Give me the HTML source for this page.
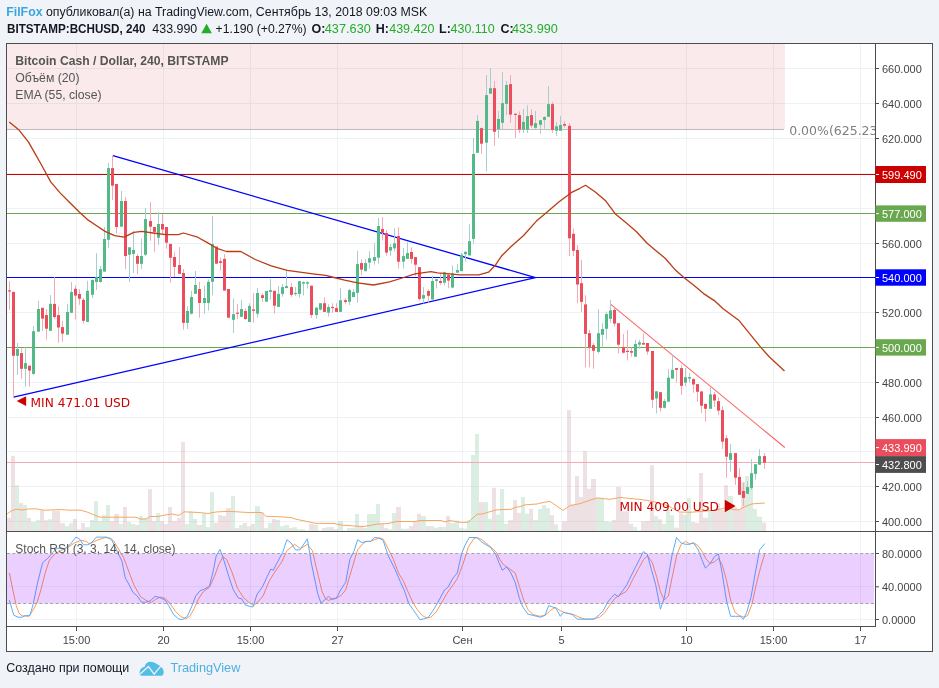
<!DOCTYPE html><html><head><meta charset="utf-8"><title>BCHUSD</title><style>
html,body{margin:0;padding:0;width:939px;height:688px;overflow:hidden;background:#f0f3f7}
svg{display:block}
.ax{font-family:"Liberation Sans",Arial,sans-serif;font-size:11px;fill:#444}
.lg{font-family:"Liberation Sans",Arial,sans-serif;font-size:12.3px;fill:#555}
.dv{font-family:"DejaVu Sans","Liberation Sans",sans-serif}
</style></head><body>
<svg width="939" height="688" viewBox="0 0 939 688">
<defs><clipPath id="cm"><rect x="7" y="44" width="868" height="487"/></clipPath>
<clipPath id="cs"><rect x="7" y="532" width="868" height="94"/></clipPath></defs>
<rect width="939" height="688" fill="#f0f3f7"/>
<text x="6.2" y="15.7" font-family="Liberation Sans, Arial, sans-serif" font-size="12.5" fill="#131722" textLength="421" lengthAdjust="spacingAndGlyphs"><tspan fill="#3ca5dc" font-weight="bold">FilFox</tspan> опубликовал(а) на TradingView.com, Сентябрь 13, 2018 09:03 MSK</text>
<g font-family="Liberation Sans, Arial, sans-serif" font-size="12.5" fill="#131722">
<text x="7" y="33.2" font-weight="bold" textLength="138.5" lengthAdjust="spacingAndGlyphs">BITSTAMP:BCHUSD, 240</text>
<text x="152.3" y="33.2" textLength="45" lengthAdjust="spacingAndGlyphs">433.990</text>
<path d="M201.3 33.2 L206.6 23.8 L211.9 33.2 Z" fill="#27ac2a"/>
<text x="215.6" y="33.2" textLength="91" lengthAdjust="spacingAndGlyphs">+1.190 (+0.27%)</text>
<text x="311.6" y="33.2" font-weight="bold">O:</text>
<text x="324.8" y="33.2" fill="#27ac2a" textLength="46.0" lengthAdjust="spacingAndGlyphs">437.630</text>
<text x="375.7" y="33.2" font-weight="bold">H:</text>
<text x="389.2" y="33.2" fill="#27ac2a" textLength="45.2" lengthAdjust="spacingAndGlyphs">439.420</text>
<text x="439.0" y="33.2" font-weight="bold">L:</text>
<text x="450.5" y="33.2" fill="#27ac2a" textLength="44.2" lengthAdjust="spacingAndGlyphs">430.110</text>
<text x="500.5" y="33.2" font-weight="bold">C:</text>
<text x="512.0" y="33.2" fill="#27ac2a" textLength="45.9" lengthAdjust="spacingAndGlyphs">433.990</text>
</g>
<rect x="6.5" y="43.5" width="926" height="608" fill="#ffffff" stroke="#4d4d4d" stroke-width="1"/>
<g clip-path="url(#cm)">
<line x1="7" x2="875" y1="68.5" y2="68.5" stroke="#eef2f6" stroke-width="1"/>
<line x1="7" x2="875" y1="103.5" y2="103.5" stroke="#eef2f6" stroke-width="1"/>
<line x1="7" x2="875" y1="138.5" y2="138.5" stroke="#eef2f6" stroke-width="1"/>
<line x1="7" x2="875" y1="173.5" y2="173.5" stroke="#eef2f6" stroke-width="1"/>
<line x1="7" x2="875" y1="208.5" y2="208.5" stroke="#eef2f6" stroke-width="1"/>
<line x1="7" x2="875" y1="243.5" y2="243.5" stroke="#eef2f6" stroke-width="1"/>
<line x1="7" x2="875" y1="277.5" y2="277.5" stroke="#eef2f6" stroke-width="1"/>
<line x1="7" x2="875" y1="312.5" y2="312.5" stroke="#eef2f6" stroke-width="1"/>
<line x1="7" x2="875" y1="347.5" y2="347.5" stroke="#eef2f6" stroke-width="1"/>
<line x1="7" x2="875" y1="382.5" y2="382.5" stroke="#eef2f6" stroke-width="1"/>
<line x1="7" x2="875" y1="417.5" y2="417.5" stroke="#eef2f6" stroke-width="1"/>
<line x1="7" x2="875" y1="451.5" y2="451.5" stroke="#eef2f6" stroke-width="1"/>
<line x1="7" x2="875" y1="486.5" y2="486.5" stroke="#eef2f6" stroke-width="1"/>
<line x1="7" x2="875" y1="521.5" y2="521.5" stroke="#eef2f6" stroke-width="1"/>
<line x1="76.5" x2="76.5" y1="44" y2="531" stroke="#eef2f6" stroke-width="1"/>
<line x1="163.5" x2="163.5" y1="44" y2="531" stroke="#eef2f6" stroke-width="1"/>
<line x1="250.5" x2="250.5" y1="44" y2="531" stroke="#eef2f6" stroke-width="1"/>
<line x1="337.5" x2="337.5" y1="44" y2="531" stroke="#eef2f6" stroke-width="1"/>
<line x1="462.5" x2="462.5" y1="44" y2="531" stroke="#eef2f6" stroke-width="1"/>
<line x1="561.5" x2="561.5" y1="44" y2="531" stroke="#eef2f6" stroke-width="1"/>
<line x1="686.5" x2="686.5" y1="44" y2="531" stroke="#eef2f6" stroke-width="1"/>
<line x1="773.5" x2="773.5" y1="44" y2="531" stroke="#eef2f6" stroke-width="1"/>
<line x1="860.5" x2="860.5" y1="44" y2="531" stroke="#eef2f6" stroke-width="1"/>
<rect x="7" y="44" width="778" height="85" fill="rgba(205,45,55,0.1)"/>
<line x1="7" x2="784" y1="129.5" y2="129.5" stroke="rgba(128,118,120,0.5)" stroke-width="1"/>
<rect x="7" y="517.7" width="4" height="13.3" fill="rgba(190,140,145,0.26)"/><rect x="11" y="455.9" width="4" height="75.1" fill="rgba(190,140,145,0.26)"/><rect x="15" y="485.2" width="4" height="45.8" fill="rgba(120,190,140,0.26)"/><rect x="19" y="503.1" width="4" height="27.9" fill="rgba(190,140,145,0.26)"/><rect x="23" y="505.0" width="4" height="26.0" fill="rgba(120,190,140,0.26)"/><rect x="27" y="518.0" width="4" height="13.0" fill="rgba(190,140,145,0.26)"/><rect x="31" y="521.9" width="5" height="9.1" fill="rgba(120,190,140,0.26)"/><rect x="36" y="520.2" width="4" height="10.8" fill="rgba(120,190,140,0.26)"/><rect x="40" y="510.3" width="4" height="20.7" fill="rgba(190,140,145,0.26)"/><rect x="44" y="520.2" width="4" height="10.8" fill="rgba(190,140,145,0.26)"/><rect x="48" y="519.2" width="4" height="11.8" fill="rgba(120,190,140,0.26)"/><rect x="52" y="510.9" width="4" height="20.1" fill="rgba(190,140,145,0.26)"/><rect x="56" y="510.9" width="4" height="20.1" fill="rgba(190,140,145,0.26)"/><rect x="60" y="523.1" width="5" height="7.9" fill="rgba(190,140,145,0.26)"/><rect x="65" y="526.0" width="4" height="5.0" fill="rgba(120,190,140,0.26)"/><rect x="69" y="523.1" width="4" height="7.9" fill="rgba(120,190,140,0.26)"/><rect x="73" y="519.0" width="4" height="12.0" fill="rgba(190,140,145,0.26)"/><rect x="77" y="529.1" width="4" height="1.9" fill="rgba(190,140,145,0.26)"/><rect x="81" y="522.9" width="4" height="8.1" fill="rgba(190,140,145,0.26)"/><rect x="85" y="527.1" width="5" height="3.9" fill="rgba(120,190,140,0.26)"/><rect x="90" y="520.0" width="4" height="11.0" fill="rgba(120,190,140,0.26)"/><rect x="94" y="501.0" width="4" height="30.0" fill="rgba(120,190,140,0.26)"/><rect x="98" y="521.2" width="4" height="9.8" fill="rgba(120,190,140,0.26)"/><rect x="102" y="515.2" width="4" height="15.8" fill="rgba(120,190,140,0.26)"/><rect x="106" y="505.0" width="4" height="26.0" fill="rgba(120,190,140,0.26)"/><rect x="110" y="521.2" width="4" height="9.8" fill="rgba(190,140,145,0.26)"/><rect x="114" y="514.0" width="5" height="17.0" fill="rgba(190,140,145,0.26)"/><rect x="119" y="524.0" width="4" height="7.0" fill="rgba(120,190,140,0.26)"/><rect x="123" y="507.0" width="4" height="24.0" fill="rgba(190,140,145,0.26)"/><rect x="127" y="522.0" width="4" height="9.0" fill="rgba(120,190,140,0.26)"/><rect x="131" y="524.0" width="4" height="7.0" fill="rgba(120,190,140,0.26)"/><rect x="135" y="525.0" width="4" height="6.0" fill="rgba(190,140,145,0.26)"/><rect x="139" y="516.0" width="4" height="15.0" fill="rgba(120,190,140,0.26)"/><rect x="143" y="518.6" width="5" height="12.4" fill="rgba(120,190,140,0.26)"/><rect x="148" y="489.1" width="4" height="41.9" fill="rgba(190,140,145,0.26)"/><rect x="152" y="521.2" width="4" height="9.8" fill="rgba(190,140,145,0.26)"/><rect x="156" y="513.1" width="4" height="17.9" fill="rgba(120,190,140,0.26)"/><rect x="160" y="521.2" width="4" height="9.8" fill="rgba(190,140,145,0.26)"/><rect x="164" y="524.0" width="4" height="7.0" fill="rgba(190,140,145,0.26)"/><rect x="168" y="507.0" width="4" height="24.0" fill="rgba(190,140,145,0.26)"/><rect x="172" y="521.2" width="5" height="9.8" fill="rgba(190,140,145,0.26)"/><rect x="177" y="518.1" width="4" height="12.9" fill="rgba(190,140,145,0.26)"/><rect x="181" y="441.9" width="4" height="89.1" fill="rgba(190,140,145,0.26)"/><rect x="185" y="524.0" width="4" height="7.0" fill="rgba(120,190,140,0.26)"/><rect x="189" y="511.4" width="4" height="19.6" fill="rgba(120,190,140,0.26)"/><rect x="193" y="519.0" width="4" height="12.0" fill="rgba(120,190,140,0.26)"/><rect x="197" y="525.0" width="5" height="6.0" fill="rgba(190,140,145,0.26)"/><rect x="202" y="513.5" width="4" height="17.5" fill="rgba(120,190,140,0.26)"/><rect x="206" y="527.1" width="4" height="3.9" fill="rgba(120,190,140,0.26)"/><rect x="210" y="492.2" width="4" height="38.8" fill="rgba(120,190,140,0.26)"/><rect x="214" y="522.9" width="4" height="8.1" fill="rgba(190,140,145,0.26)"/><rect x="218" y="514.9" width="4" height="16.1" fill="rgba(190,140,145,0.26)"/><rect x="222" y="516.0" width="4" height="15.0" fill="rgba(190,140,145,0.26)"/><rect x="226" y="508.0" width="5" height="23.0" fill="rgba(190,140,145,0.26)"/><rect x="231" y="496.1" width="4" height="34.9" fill="rgba(120,190,140,0.26)"/><rect x="235" y="528.0" width="4" height="3.0" fill="rgba(190,140,145,0.26)"/><rect x="239" y="525.0" width="4" height="6.0" fill="rgba(120,190,140,0.26)"/><rect x="243" y="522.9" width="4" height="8.1" fill="rgba(190,140,145,0.26)"/><rect x="247" y="526.3" width="4" height="4.7" fill="rgba(120,190,140,0.26)"/><rect x="251" y="524.0" width="4" height="7.0" fill="rgba(190,140,145,0.26)"/><rect x="255" y="506.2" width="5" height="24.8" fill="rgba(120,190,140,0.26)"/><rect x="260" y="512.6" width="4" height="18.4" fill="rgba(190,140,145,0.26)"/><rect x="264" y="528.0" width="4" height="3.0" fill="rgba(120,190,140,0.26)"/><rect x="268" y="522.9" width="4" height="8.1" fill="rgba(120,190,140,0.26)"/><rect x="272" y="519.0" width="4" height="12.0" fill="rgba(190,140,145,0.26)"/><rect x="276" y="520.0" width="4" height="11.0" fill="rgba(120,190,140,0.26)"/><rect x="280" y="526.3" width="4" height="4.7" fill="rgba(120,190,140,0.26)"/><rect x="284" y="525.0" width="5" height="6.0" fill="rgba(120,190,140,0.26)"/><rect x="289" y="528.0" width="4" height="3.0" fill="rgba(190,140,145,0.26)"/><rect x="293" y="527.1" width="4" height="3.9" fill="rgba(120,190,140,0.26)"/><rect x="297" y="529.2" width="4" height="1.8" fill="rgba(120,190,140,0.26)"/><rect x="301" y="529.2" width="4" height="1.8" fill="rgba(120,190,140,0.26)"/><rect x="305" y="530.5" width="4" height="0.5" fill="rgba(120,190,140,0.26)"/><rect x="309" y="524.0" width="5" height="7.0" fill="rgba(190,140,145,0.26)"/><rect x="314" y="525.0" width="4" height="6.0" fill="rgba(120,190,140,0.26)"/><rect x="318" y="530.5" width="4" height="0.5" fill="rgba(120,190,140,0.26)"/><rect x="322" y="528.0" width="4" height="3.0" fill="rgba(190,140,145,0.26)"/><rect x="326" y="527.1" width="4" height="3.9" fill="rgba(120,190,140,0.26)"/><rect x="330" y="527.1" width="4" height="3.9" fill="rgba(190,140,145,0.26)"/><rect x="334" y="529.2" width="4" height="1.8" fill="rgba(190,140,145,0.26)"/><rect x="338" y="521.2" width="5" height="9.8" fill="rgba(120,190,140,0.26)"/><rect x="343" y="530.5" width="4" height="0.5" fill="rgba(190,140,145,0.26)"/><rect x="347" y="528.0" width="4" height="3.0" fill="rgba(120,190,140,0.26)"/><rect x="351" y="528.0" width="4" height="3.0" fill="rgba(120,190,140,0.26)"/><rect x="355" y="514.0" width="4" height="17.0" fill="rgba(120,190,140,0.26)"/><rect x="359" y="526.3" width="4" height="4.7" fill="rgba(190,140,145,0.26)"/><rect x="363" y="528.0" width="4" height="3.0" fill="rgba(120,190,140,0.26)"/><rect x="367" y="514.0" width="5" height="17.0" fill="rgba(120,190,140,0.26)"/><rect x="372" y="514.0" width="4" height="17.0" fill="rgba(120,190,140,0.26)"/><rect x="376" y="504.1" width="4" height="26.9" fill="rgba(120,190,140,0.26)"/><rect x="380" y="524.0" width="4" height="7.0" fill="rgba(190,140,145,0.26)"/><rect x="384" y="528.0" width="4" height="3.0" fill="rgba(190,140,145,0.26)"/><rect x="388" y="529.2" width="4" height="1.8" fill="rgba(120,190,140,0.26)"/><rect x="392" y="513.0" width="4" height="18.0" fill="rgba(120,190,140,0.26)"/><rect x="396" y="506.9" width="5" height="24.1" fill="rgba(190,140,145,0.26)"/><rect x="401" y="528.7" width="4" height="2.3" fill="rgba(120,190,140,0.26)"/><rect x="405" y="528.7" width="4" height="2.3" fill="rgba(120,190,140,0.26)"/><rect x="409" y="526.0" width="4" height="5.0" fill="rgba(190,140,145,0.26)"/><rect x="413" y="521.9" width="4" height="9.1" fill="rgba(190,140,145,0.26)"/><rect x="417" y="513.7" width="4" height="17.3" fill="rgba(190,140,145,0.26)"/><rect x="421" y="515.9" width="5" height="15.1" fill="rgba(120,190,140,0.26)"/><rect x="426" y="526.0" width="4" height="5.0" fill="rgba(190,140,145,0.26)"/><rect x="430" y="526.0" width="4" height="5.0" fill="rgba(120,190,140,0.26)"/><rect x="434" y="527.7" width="4" height="3.3" fill="rgba(120,190,140,0.26)"/><rect x="438" y="527.0" width="4" height="4.0" fill="rgba(190,140,145,0.26)"/><rect x="442" y="527.0" width="4" height="4.0" fill="rgba(120,190,140,0.26)"/><rect x="446" y="515.9" width="4" height="15.1" fill="rgba(190,140,145,0.26)"/><rect x="450" y="523.1" width="5" height="7.9" fill="rgba(120,190,140,0.26)"/><rect x="455" y="520.5" width="4" height="10.5" fill="rgba(120,190,140,0.26)"/><rect x="459" y="527.7" width="4" height="3.3" fill="rgba(120,190,140,0.26)"/><rect x="463" y="528.7" width="4" height="2.3" fill="rgba(120,190,140,0.26)"/><rect x="467" y="520.2" width="4" height="10.8" fill="rgba(120,190,140,0.26)"/><rect x="471" y="454.9" width="4" height="76.1" fill="rgba(120,190,140,0.26)"/><rect x="475" y="434.0" width="4" height="97.0" fill="rgba(120,190,140,0.26)"/><rect x="479" y="502.1" width="5" height="28.9" fill="rgba(190,140,145,0.26)"/><rect x="484" y="502.1" width="4" height="28.9" fill="rgba(120,190,140,0.26)"/><rect x="488" y="518.8" width="4" height="12.2" fill="rgba(120,190,140,0.26)"/><rect x="492" y="487.8" width="4" height="43.2" fill="rgba(190,140,145,0.26)"/><rect x="496" y="514.6" width="4" height="16.4" fill="rgba(120,190,140,0.26)"/><rect x="500" y="489.0" width="4" height="42.0" fill="rgba(120,190,140,0.26)"/><rect x="504" y="523.9" width="4" height="7.1" fill="rgba(120,190,140,0.26)"/><rect x="508" y="520.2" width="5" height="10.8" fill="rgba(190,140,145,0.26)"/><rect x="513" y="500.1" width="4" height="30.9" fill="rgba(190,140,145,0.26)"/><rect x="517" y="512.9" width="4" height="18.1" fill="rgba(190,140,145,0.26)"/><rect x="521" y="497.0" width="4" height="34.0" fill="rgba(120,190,140,0.26)"/><rect x="525" y="513.7" width="4" height="17.3" fill="rgba(120,190,140,0.26)"/><rect x="529" y="508.9" width="4" height="22.1" fill="rgba(190,140,145,0.26)"/><rect x="533" y="520.2" width="5" height="10.8" fill="rgba(120,190,140,0.26)"/><rect x="538" y="508.9" width="4" height="22.1" fill="rgba(120,190,140,0.26)"/><rect x="542" y="505.2" width="4" height="25.8" fill="rgba(120,190,140,0.26)"/><rect x="546" y="508.0" width="4" height="23.0" fill="rgba(120,190,140,0.26)"/><rect x="550" y="515.1" width="4" height="15.9" fill="rgba(190,140,145,0.26)"/><rect x="554" y="524.3" width="4" height="6.7" fill="rgba(120,190,140,0.26)"/><rect x="558" y="530.5" width="4" height="0.5" fill="rgba(120,190,140,0.26)"/><rect x="562" y="521.3" width="5" height="9.7" fill="rgba(190,140,145,0.26)"/><rect x="567" y="410.0" width="4" height="121.0" fill="rgba(190,140,145,0.26)"/><rect x="571" y="504.6" width="4" height="26.4" fill="rgba(190,140,145,0.26)"/><rect x="575" y="476.2" width="4" height="54.8" fill="rgba(190,140,145,0.26)"/><rect x="579" y="496.9" width="4" height="34.1" fill="rgba(190,140,145,0.26)"/><rect x="583" y="451.2" width="4" height="79.8" fill="rgba(190,140,145,0.26)"/><rect x="587" y="488.8" width="4" height="42.2" fill="rgba(190,140,145,0.26)"/><rect x="591" y="479.0" width="5" height="52.0" fill="rgba(190,140,145,0.26)"/><rect x="596" y="497.9" width="4" height="33.1" fill="rgba(120,190,140,0.26)"/><rect x="600" y="497.9" width="4" height="33.1" fill="rgba(120,190,140,0.26)"/><rect x="604" y="521.3" width="4" height="9.7" fill="rgba(120,190,140,0.26)"/><rect x="608" y="521.8" width="4" height="9.2" fill="rgba(120,190,140,0.26)"/><rect x="612" y="519.9" width="4" height="11.1" fill="rgba(190,140,145,0.26)"/><rect x="616" y="486.9" width="5" height="44.1" fill="rgba(190,140,145,0.26)"/><rect x="621" y="511.3" width="4" height="19.7" fill="rgba(190,140,145,0.26)"/><rect x="625" y="511.3" width="4" height="19.7" fill="rgba(190,140,145,0.26)"/><rect x="629" y="523.8" width="4" height="7.2" fill="rgba(190,140,145,0.26)"/><rect x="633" y="527.0" width="4" height="4.0" fill="rgba(120,190,140,0.26)"/><rect x="637" y="530.5" width="4" height="0.5" fill="rgba(120,190,140,0.26)"/><rect x="641" y="521.3" width="4" height="9.7" fill="rgba(190,140,145,0.26)"/><rect x="645" y="520.9" width="5" height="10.1" fill="rgba(190,140,145,0.26)"/><rect x="650" y="465.2" width="4" height="65.8" fill="rgba(190,140,145,0.26)"/><rect x="654" y="516.1" width="4" height="14.9" fill="rgba(120,190,140,0.26)"/><rect x="658" y="519.3" width="4" height="11.7" fill="rgba(190,140,145,0.26)"/><rect x="662" y="523.8" width="4" height="7.2" fill="rgba(120,190,140,0.26)"/><rect x="666" y="509.7" width="4" height="21.3" fill="rgba(120,190,140,0.26)"/><rect x="670" y="515.1" width="4" height="15.9" fill="rgba(120,190,140,0.26)"/><rect x="674" y="527.6" width="5" height="3.4" fill="rgba(190,140,145,0.26)"/><rect x="679" y="513.2" width="4" height="17.8" fill="rgba(190,140,145,0.26)"/><rect x="683" y="514.7" width="4" height="16.3" fill="rgba(120,190,140,0.26)"/><rect x="687" y="498.2" width="4" height="32.8" fill="rgba(120,190,140,0.26)"/><rect x="691" y="522.0" width="4" height="9.0" fill="rgba(190,140,145,0.26)"/><rect x="695" y="523.0" width="4" height="8.0" fill="rgba(190,140,145,0.26)"/><rect x="699" y="473.0" width="4" height="58.0" fill="rgba(190,140,145,0.26)"/><rect x="703" y="517.8" width="5" height="13.2" fill="rgba(190,140,145,0.26)"/><rect x="708" y="510.1" width="4" height="20.9" fill="rgba(120,190,140,0.26)"/><rect x="712" y="511.2" width="4" height="19.8" fill="rgba(190,140,145,0.26)"/><rect x="716" y="503.4" width="4" height="27.6" fill="rgba(190,140,145,0.26)"/><rect x="720" y="510.0" width="4" height="21.0" fill="rgba(190,140,145,0.26)"/><rect x="724" y="485.2" width="4" height="45.8" fill="rgba(190,140,145,0.26)"/><rect x="728" y="496.0" width="5" height="35.0" fill="rgba(120,190,140,0.26)"/><rect x="733" y="507.1" width="4" height="23.9" fill="rgba(190,140,145,0.26)"/><rect x="737" y="510.0" width="4" height="21.0" fill="rgba(190,140,145,0.26)"/><rect x="741" y="481.9" width="4" height="49.1" fill="rgba(190,140,145,0.26)"/><rect x="745" y="476.0" width="4" height="55.0" fill="rgba(120,190,140,0.26)"/><rect x="749" y="486.3" width="4" height="44.7" fill="rgba(120,190,140,0.26)"/><rect x="753" y="508.9" width="4" height="22.1" fill="rgba(120,190,140,0.26)"/><rect x="757" y="516.7" width="5" height="14.3" fill="rgba(120,190,140,0.26)"/><rect x="762" y="522.7" width="4" height="8.3" fill="rgba(190,140,145,0.26)"/>
<polyline fill="none" stroke="#f5a766" stroke-width="1" points="7,514 12,510.5 16,509.2 22,510 28,509 36,508.8 44,510.2 50,510 60,509.6 70,510.2 80,510.1 87,512 100,517.2 136,517.2 140,519 146,519 150,516.5 158,516.5 165,515 172,514 179,515.5 184,511.8 199,512.5 208,513.5 216,512 228,511.3 240,512 250,512.6 255,512.4 262,512.6 266,516.3 276,516.6 291,517.5 296,519.2 307,521.5 315,523.3 334,523.5 341,525 354,526 364,526.5 378,524 388,523.5 397,521.5 415,521.5 420,520.5 441,520.5 445,522 449,520.5 456,521.5 460,522.3 468,522.3 477,514.3 482,514 489,512 496,510 502,509.6 511,509.3 516,507 519,507 525,504.8 537,504 543,502.5 550,501.4 563,510.4 570,505.6 580,503.6 597,497.9 610,499.3 620,497.5 641,499.5 652,501.3 668,505.6 679,512 690,512.3 705,511.1 717,510 727,507.4 734,509.8 739,509.8 745,506.7 752,503.9 765,503"/>
<line x1="7" x2="875" y1="174.5" y2="174.5" stroke="#cc0000" stroke-width="1"/>
<line x1="7" x2="875" y1="213.5" y2="213.5" stroke="#6aa84f" stroke-width="1"/>
<line x1="7" x2="875" y1="277.5" y2="277.5" stroke="#0000ff" stroke-width="1"/>
<line x1="7" x2="875" y1="347.5" y2="347.5" stroke="#6aa84f" stroke-width="1"/>
<line x1="7" x2="875" y1="462.5" y2="462.5" stroke="#f6a9b0" stroke-width="1"/>
<polyline fill="none" stroke="#0000ff" stroke-width="1.3" stroke-linejoin="round" points="112.9,155.6 535.5,277.6 13.5,397.2"/>
<line x1="610.5" y1="304.2" x2="784.8" y2="447.5" stroke="#ff6464" stroke-width="1.1"/>
<path d="M16.7 401.1 L26.1 396.2 L26.1 405.9 Z" fill="#cc0000"/>
<text class="dv" x="30.6" y="406.6" font-size="12.2" fill="#cc0000" textLength="99.6" lengthAdjust="spacingAndGlyphs">MIN 471.01 USD</text>
<text class="dv" x="619.4" y="510.9" font-size="12.2" fill="#cc0000" textLength="99.4" lengthAdjust="spacingAndGlyphs">MIN 409.00 USD</text>
<path d="M735.6 506 L724.8 499.7 L724.8 512.3 Z" fill="#cc0000"/>
<rect x="9" y="281.1" width="1" height="28.8" fill="#f5a9b2"/><rect x="13" y="291.9" width="1" height="105.6" fill="#f5a9b2"/><rect x="17" y="343.0" width="1" height="31.8" fill="#a5cdd2"/><rect x="21" y="348.3" width="1" height="30.5" fill="#f5a9b2"/><rect x="25" y="346.9" width="1" height="39.7" fill="#a5cdd2"/><rect x="29" y="365.7" width="1" height="20.9" fill="#f5a9b2"/><rect x="33" y="325.9" width="1" height="48.9" fill="#a5cdd2"/><rect x="38" y="300.8" width="1" height="30.9" fill="#a5cdd2"/><rect x="42" y="307.8" width="1" height="23.0" fill="#f5a9b2"/><rect x="46" y="309.0" width="1" height="30.5" fill="#f5a9b2"/><rect x="50" y="295.1" width="1" height="35.7" fill="#a5cdd2"/><rect x="54" y="277.2" width="1" height="41.5" fill="#f5a9b2"/><rect x="58" y="306.4" width="1" height="36.3" fill="#f5a9b2"/><rect x="62" y="320.9" width="1" height="20.7" fill="#f5a9b2"/><rect x="67" y="303.9" width="1" height="30.8" fill="#a5cdd2"/><rect x="71" y="282.0" width="1" height="30.8" fill="#a5cdd2"/><rect x="75" y="285.2" width="1" height="34.3" fill="#f5a9b2"/><rect x="79" y="289.2" width="1" height="15.6" fill="#f5a9b2"/><rect x="83" y="298.0" width="1" height="25.5" fill="#f5a9b2"/><rect x="87" y="280.8" width="1" height="41.1" fill="#a5cdd2"/><rect x="92" y="279.9" width="1" height="18.1" fill="#a5cdd2"/><rect x="96" y="253.2" width="1" height="36.8" fill="#a5cdd2"/><rect x="100" y="266.0" width="1" height="16.5" fill="#a5cdd2"/><rect x="104" y="227.0" width="1" height="44.6" fill="#a5cdd2"/><rect x="108" y="163.0" width="1" height="85.0" fill="#a5cdd2"/><rect x="112" y="155.5" width="1" height="44.6" fill="#f5a9b2"/><rect x="116" y="184.0" width="1" height="49.5" fill="#f5a9b2"/><rect x="121" y="191.0" width="1" height="35.7" fill="#a5cdd2"/><rect x="125" y="197.1" width="1" height="71.9" fill="#f5a9b2"/><rect x="129" y="247.3" width="1" height="34.7" fill="#a5cdd2"/><rect x="133" y="231.0" width="1" height="42.0" fill="#a5cdd2"/><rect x="137" y="254.0" width="1" height="20.3" fill="#f5a9b2"/><rect x="141" y="238.7" width="1" height="30.3" fill="#a5cdd2"/><rect x="145" y="208.0" width="1" height="48.0" fill="#a5cdd2"/><rect x="150" y="202.1" width="1" height="38.6" fill="#f5a9b2"/><rect x="154" y="227.0" width="1" height="24.8" fill="#f5a9b2"/><rect x="158" y="212.2" width="1" height="32.6" fill="#a5cdd2"/><rect x="162" y="214.3" width="1" height="20.7" fill="#f5a9b2"/><rect x="166" y="227.0" width="1" height="21.7" fill="#f5a9b2"/><rect x="170" y="243.9" width="1" height="38.7" fill="#f5a9b2"/><rect x="174" y="252.2" width="1" height="24.8" fill="#f5a9b2"/><rect x="179" y="247.1" width="1" height="26.7" fill="#f5a9b2"/><rect x="183" y="269.0" width="1" height="60.7" fill="#f5a9b2"/><rect x="187" y="306.2" width="1" height="22.7" fill="#a5cdd2"/><rect x="191" y="290.9" width="1" height="23.6" fill="#a5cdd2"/><rect x="195" y="271.0" width="1" height="22.8" fill="#a5cdd2"/><rect x="199" y="281.8" width="1" height="35.9" fill="#f5a9b2"/><rect x="204" y="285.8" width="1" height="27.9" fill="#a5cdd2"/><rect x="208" y="279.4" width="1" height="31.1" fill="#a5cdd2"/><rect x="212" y="216.0" width="1" height="79.3" fill="#a5cdd2"/><rect x="216" y="246.6" width="1" height="17.1" fill="#f5a9b2"/><rect x="220" y="257.8" width="1" height="12.8" fill="#f5a9b2"/><rect x="224" y="254.1" width="1" height="36.5" fill="#f5a9b2"/><rect x="228" y="289.0" width="1" height="28.7" fill="#f5a9b2"/><rect x="233" y="298.5" width="1" height="34.4" fill="#a5cdd2"/><rect x="237" y="304.2" width="1" height="14.8" fill="#f5a9b2"/><rect x="241" y="300.1" width="1" height="16.7" fill="#a5cdd2"/><rect x="245" y="308.4" width="1" height="11.5" fill="#f5a9b2"/><rect x="249" y="303.2" width="1" height="18.8" fill="#a5cdd2"/><rect x="253" y="293.0" width="1" height="29.7" fill="#f5a9b2"/><rect x="257" y="288.1" width="1" height="29.7" fill="#a5cdd2"/><rect x="262" y="293.3" width="1" height="8.4" fill="#f5a9b2"/><rect x="266" y="291.0" width="1" height="10.7" fill="#a5cdd2"/><rect x="270" y="279.1" width="1" height="20.6" fill="#a5cdd2"/><rect x="274" y="290.8" width="1" height="22.9" fill="#f5a9b2"/><rect x="278" y="286.1" width="1" height="20.8" fill="#a5cdd2"/><rect x="282" y="284.0" width="1" height="12.8" fill="#a5cdd2"/><rect x="286" y="270.8" width="1" height="17.3" fill="#a5cdd2"/><rect x="291" y="283.2" width="1" height="13.6" fill="#f5a9b2"/><rect x="295" y="287.1" width="1" height="8.7" fill="#a5cdd2"/><rect x="299" y="281.2" width="1" height="16.4" fill="#a5cdd2"/><rect x="303" y="281.2" width="1" height="14.3" fill="#a5cdd2"/><rect x="307" y="281.2" width="1" height="7.4" fill="#a5cdd2"/><rect x="311" y="285.7" width="1" height="32.3" fill="#f5a9b2"/><rect x="316" y="307.6" width="1" height="11.2" fill="#a5cdd2"/><rect x="320" y="303.2" width="1" height="7.2" fill="#a5cdd2"/><rect x="324" y="297.4" width="1" height="14.5" fill="#f5a9b2"/><rect x="328" y="304.3" width="1" height="12.2" fill="#a5cdd2"/><rect x="332" y="303.2" width="1" height="9.5" fill="#f5a9b2"/><rect x="336" y="303.2" width="1" height="8.7" fill="#f5a9b2"/><rect x="340" y="288.3" width="1" height="23.6" fill="#a5cdd2"/><rect x="345" y="298.2" width="1" height="5.6" fill="#f5a9b2"/><rect x="349" y="289.0" width="1" height="16.0" fill="#a5cdd2"/><rect x="353" y="289.0" width="1" height="8.1" fill="#a5cdd2"/><rect x="357" y="250.9" width="1" height="51.9" fill="#a5cdd2"/><rect x="361" y="259.3" width="1" height="16.0" fill="#f5a9b2"/><rect x="365" y="259.3" width="1" height="11.9" fill="#a5cdd2"/><rect x="369" y="251.3" width="1" height="17.4" fill="#a5cdd2"/><rect x="374" y="243.2" width="1" height="21.4" fill="#a5cdd2"/><rect x="378" y="218.0" width="1" height="45.8" fill="#a5cdd2"/><rect x="382" y="217.2" width="1" height="23.2" fill="#f5a9b2"/><rect x="386" y="230.2" width="1" height="25.5" fill="#f5a9b2"/><rect x="390" y="244.0" width="1" height="11.7" fill="#a5cdd2"/><rect x="394" y="228.1" width="1" height="23.5" fill="#a5cdd2"/><rect x="398" y="227.2" width="1" height="41.4" fill="#f5a9b2"/><rect x="403" y="248.1" width="1" height="20.5" fill="#a5cdd2"/><rect x="407" y="242.3" width="1" height="16.6" fill="#a5cdd2"/><rect x="411" y="247.4" width="1" height="16.2" fill="#f5a9b2"/><rect x="415" y="257.1" width="1" height="18.7" fill="#f5a9b2"/><rect x="419" y="267.2" width="1" height="33.4" fill="#f5a9b2"/><rect x="423" y="287.1" width="1" height="16.3" fill="#a5cdd2"/><rect x="428" y="289.3" width="1" height="13.4" fill="#f5a9b2"/><rect x="432" y="275.5" width="1" height="24.0" fill="#a5cdd2"/><rect x="436" y="279.2" width="1" height="9.3" fill="#a5cdd2"/><rect x="440" y="273.0" width="1" height="11.7" fill="#f5a9b2"/><rect x="444" y="271.6" width="1" height="13.8" fill="#a5cdd2"/><rect x="448" y="274.7" width="1" height="13.5" fill="#f5a9b2"/><rect x="452" y="265.4" width="1" height="23.0" fill="#a5cdd2"/><rect x="457" y="264.0" width="1" height="8.7" fill="#a5cdd2"/><rect x="461" y="252.8" width="1" height="18.3" fill="#a5cdd2"/><rect x="465" y="251.3" width="1" height="10.2" fill="#a5cdd2"/><rect x="469" y="224.3" width="1" height="31.1" fill="#a5cdd2"/><rect x="473" y="137.9" width="1" height="105.7" fill="#a5cdd2"/><rect x="477" y="115.1" width="1" height="37.7" fill="#a5cdd2"/><rect x="481" y="127.4" width="1" height="26.2" fill="#f5a9b2"/><rect x="486" y="75.1" width="1" height="96.3" fill="#a5cdd2"/><rect x="490" y="68.1" width="1" height="25.6" fill="#a5cdd2"/><rect x="494" y="81.2" width="1" height="64.4" fill="#f5a9b2"/><rect x="498" y="111.1" width="1" height="26.8" fill="#a5cdd2"/><rect x="502" y="72.2" width="1" height="57.0" fill="#a5cdd2"/><rect x="506" y="80.9" width="1" height="34.2" fill="#a5cdd2"/><rect x="510" y="75.1" width="1" height="47.7" fill="#f5a9b2"/><rect x="515" y="113.7" width="1" height="24.2" fill="#f5a9b2"/><rect x="519" y="111.4" width="1" height="21.5" fill="#f5a9b2"/><rect x="523" y="108.8" width="1" height="24.1" fill="#a5cdd2"/><rect x="527" y="105.3" width="1" height="27.6" fill="#a5cdd2"/><rect x="531" y="109.3" width="1" height="18.5" fill="#f5a9b2"/><rect x="535" y="111.0" width="1" height="17.8" fill="#a5cdd2"/><rect x="540" y="120.2" width="1" height="13.5" fill="#a5cdd2"/><rect x="544" y="116.1" width="1" height="12.7" fill="#a5cdd2"/><rect x="548" y="86.1" width="1" height="30.7" fill="#a5cdd2"/><rect x="552" y="101.9" width="1" height="31.0" fill="#f5a9b2"/><rect x="556" y="122.2" width="1" height="13.6" fill="#a5cdd2"/><rect x="560" y="116.1" width="1" height="14.6" fill="#a5cdd2"/><rect x="564" y="121.2" width="1" height="6.4" fill="#f5a9b2"/><rect x="569" y="123.2" width="1" height="132.8" fill="#f5a9b2"/><rect x="573" y="228.6" width="1" height="27.4" fill="#f5a9b2"/><rect x="577" y="245.0" width="1" height="58.2" fill="#f5a9b2"/><rect x="581" y="260.0" width="1" height="52.0" fill="#f5a9b2"/><rect x="585" y="295.2" width="1" height="72.2" fill="#f5a9b2"/><rect x="589" y="330.0" width="1" height="37.4" fill="#f5a9b2"/><rect x="593" y="343.1" width="1" height="25.6" fill="#f5a9b2"/><rect x="598" y="309.2" width="1" height="44.3" fill="#a5cdd2"/><rect x="602" y="323.2" width="1" height="24.4" fill="#a5cdd2"/><rect x="606" y="311.5" width="1" height="28.1" fill="#a5cdd2"/><rect x="610" y="300.0" width="1" height="22.7" fill="#a5cdd2"/><rect x="614" y="307.6" width="1" height="18.8" fill="#f5a9b2"/><rect x="618" y="323.2" width="1" height="30.3" fill="#f5a9b2"/><rect x="623" y="333.9" width="1" height="19.6" fill="#f5a9b2"/><rect x="627" y="330.0" width="1" height="30.4" fill="#f5a9b2"/><rect x="631" y="347.6" width="1" height="9.1" fill="#f5a9b2"/><rect x="635" y="339.9" width="1" height="16.8" fill="#a5cdd2"/><rect x="639" y="339.9" width="1" height="8.9" fill="#a5cdd2"/><rect x="643" y="333.3" width="1" height="11.3" fill="#f5a9b2"/><rect x="647" y="343.0" width="1" height="11.7" fill="#f5a9b2"/><rect x="652" y="351.0" width="1" height="56.8" fill="#f5a9b2"/><rect x="656" y="391.3" width="1" height="22.1" fill="#a5cdd2"/><rect x="660" y="392.2" width="1" height="19.5" fill="#f5a9b2"/><rect x="664" y="398.9" width="1" height="9.6" fill="#a5cdd2"/><rect x="668" y="369.2" width="1" height="33.1" fill="#a5cdd2"/><rect x="672" y="354.3" width="1" height="24.3" fill="#a5cdd2"/><rect x="676" y="368.1" width="1" height="14.6" fill="#f5a9b2"/><rect x="681" y="365.0" width="1" height="29.7" fill="#f5a9b2"/><rect x="685" y="368.1" width="1" height="18.3" fill="#a5cdd2"/><rect x="689" y="373.0" width="1" height="9.7" fill="#a5cdd2"/><rect x="693" y="378.2" width="1" height="14.5" fill="#f5a9b2"/><rect x="697" y="384.1" width="1" height="17.6" fill="#f5a9b2"/><rect x="701" y="391.4" width="1" height="21.5" fill="#f5a9b2"/><rect x="705" y="403.1" width="1" height="18.7" fill="#f5a9b2"/><rect x="710" y="387.4" width="1" height="21.4" fill="#a5cdd2"/><rect x="714" y="392.0" width="1" height="15.0" fill="#f5a9b2"/><rect x="718" y="397.2" width="1" height="17.7" fill="#f5a9b2"/><rect x="722" y="406.1" width="1" height="42.8" fill="#f5a9b2"/><rect x="726" y="435.2" width="1" height="42.5" fill="#f5a9b2"/><rect x="730" y="444.1" width="1" height="27.5" fill="#a5cdd2"/><rect x="735" y="453.1" width="1" height="31.8" fill="#f5a9b2"/><rect x="739" y="468.1" width="1" height="26.7" fill="#f5a9b2"/><rect x="743" y="482.8" width="1" height="23.0" fill="#f5a9b2"/><rect x="747" y="481.3" width="1" height="12.5" fill="#a5cdd2"/><rect x="751" y="459.2" width="1" height="30.7" fill="#a5cdd2"/><rect x="755" y="464.2" width="1" height="15.6" fill="#a5cdd2"/><rect x="759" y="449.2" width="1" height="15.5" fill="#a5cdd2"/><rect x="764" y="453.1" width="1" height="15.7" fill="#f5a9b2"/>
<rect x="8" y="290.3" width="3" height="1.2" fill="#eb4d5c"/><rect x="12" y="291.9" width="3" height="63.9" fill="#eb4d5c"/><rect x="16" y="349.1" width="3" height="6.7" fill="#53b987"/><rect x="20" y="353.1" width="3" height="15.7" fill="#eb4d5c"/><rect x="24" y="363.1" width="3" height="5.7" fill="#53b987"/><rect x="28" y="365.7" width="3" height="4.9" fill="#eb4d5c"/><rect x="32" y="331.2" width="3" height="42.7" fill="#53b987"/><rect x="37" y="309.0" width="3" height="22.7" fill="#53b987"/><rect x="41" y="307.8" width="3" height="10.8" fill="#eb4d5c"/><rect x="45" y="315.1" width="3" height="13.6" fill="#eb4d5c"/><rect x="49" y="303.8" width="3" height="27.0" fill="#53b987"/><rect x="53" y="303.9" width="3" height="13.2" fill="#eb4d5c"/><rect x="57" y="315.1" width="3" height="12.4" fill="#eb4d5c"/><rect x="61" y="327.1" width="3" height="6.5" fill="#eb4d5c"/><rect x="66" y="312.0" width="3" height="22.7" fill="#53b987"/><rect x="70" y="292.0" width="3" height="20.8" fill="#53b987"/><rect x="74" y="288.8" width="3" height="6.8" fill="#eb4d5c"/><rect x="78" y="294.0" width="3" height="4.8" fill="#eb4d5c"/><rect x="82" y="299.9" width="3" height="20.9" fill="#eb4d5c"/><rect x="86" y="290.8" width="3" height="31.1" fill="#53b987"/><rect x="91" y="279.9" width="3" height="14.9" fill="#53b987"/><rect x="95" y="277.2" width="3" height="4.8" fill="#53b987"/><rect x="99" y="269.2" width="3" height="12.8" fill="#53b987"/><rect x="103" y="239.0" width="3" height="32.6" fill="#53b987"/><rect x="107" y="168.1" width="3" height="71.7" fill="#53b987"/><rect x="111" y="168.1" width="3" height="17.6" fill="#eb4d5c"/><rect x="115" y="184.0" width="3" height="43.0" fill="#eb4d5c"/><rect x="120" y="201.0" width="3" height="25.7" fill="#53b987"/><rect x="124" y="201.0" width="3" height="55.0" fill="#eb4d5c"/><rect x="128" y="247.3" width="3" height="7.4" fill="#53b987"/><rect x="132" y="250.0" width="3" height="3.9" fill="#53b987"/><rect x="136" y="256.0" width="3" height="7.8" fill="#eb4d5c"/><rect x="140" y="256.0" width="3" height="7.8" fill="#53b987"/><rect x="144" y="219.1" width="3" height="35.6" fill="#53b987"/><rect x="149" y="221.0" width="3" height="5.7" fill="#eb4d5c"/><rect x="153" y="227.0" width="3" height="4.9" fill="#eb4d5c"/><rect x="157" y="224.0" width="3" height="13.7" fill="#53b987"/><rect x="161" y="224.0" width="3" height="5.6" fill="#eb4d5c"/><rect x="165" y="227.0" width="3" height="15.7" fill="#eb4d5c"/><rect x="169" y="243.9" width="3" height="13.9" fill="#eb4d5c"/><rect x="173" y="257.0" width="3" height="9.9" fill="#eb4d5c"/><rect x="178" y="265.0" width="3" height="8.8" fill="#eb4d5c"/><rect x="182" y="273.0" width="3" height="49.9" fill="#eb4d5c"/><rect x="186" y="311.0" width="3" height="11.9" fill="#53b987"/><rect x="190" y="297.0" width="3" height="16.7" fill="#53b987"/><rect x="194" y="285.0" width="3" height="8.8" fill="#53b987"/><rect x="198" y="289.0" width="3" height="14.0" fill="#eb4d5c"/><rect x="203" y="298.0" width="3" height="5.0" fill="#53b987"/><rect x="207" y="281.8" width="3" height="21.2" fill="#53b987"/><rect x="211" y="244.2" width="3" height="37.6" fill="#53b987"/><rect x="215" y="246.6" width="3" height="17.1" fill="#eb4d5c"/><rect x="219" y="261.2" width="3" height="1.7" fill="#eb4d5c"/><rect x="223" y="258.9" width="3" height="31.7" fill="#eb4d5c"/><rect x="227" y="289.0" width="3" height="28.7" fill="#eb4d5c"/><rect x="232" y="314.2" width="3" height="5.6" fill="#53b987"/><rect x="236" y="312.6" width="3" height="1.2" fill="#eb4d5c"/><rect x="240" y="309.0" width="3" height="7.8" fill="#53b987"/><rect x="244" y="311.0" width="3" height="8.0" fill="#eb4d5c"/><rect x="248" y="305.9" width="3" height="16.1" fill="#53b987"/><rect x="252" y="309.4" width="3" height="1.4" fill="#eb4d5c"/><rect x="256" y="293.0" width="3" height="20.7" fill="#53b987"/><rect x="261" y="295.2" width="3" height="2.8" fill="#eb4d5c"/><rect x="265" y="291.0" width="3" height="10.7" fill="#53b987"/><rect x="269" y="290.1" width="3" height="1.7" fill="#53b987"/><rect x="273" y="290.8" width="3" height="14.9" fill="#eb4d5c"/><rect x="277" y="293.9" width="3" height="13.0" fill="#53b987"/><rect x="281" y="287.1" width="3" height="6.8" fill="#53b987"/><rect x="285" y="286.1" width="3" height="2.0" fill="#53b987"/><rect x="290" y="287.1" width="3" height="7.7" fill="#eb4d5c"/><rect x="294" y="292.9" width="3" height="1.2" fill="#53b987"/><rect x="298" y="281.2" width="3" height="12.7" fill="#53b987"/><rect x="302" y="282.2" width="3" height="1.5" fill="#53b987"/><rect x="306" y="282.2" width="3" height="1.5" fill="#53b987"/><rect x="310" y="285.7" width="3" height="29.3" fill="#eb4d5c"/><rect x="315" y="307.6" width="3" height="7.4" fill="#53b987"/><rect x="319" y="303.2" width="3" height="6.4" fill="#53b987"/><rect x="323" y="303.2" width="3" height="8.7" fill="#eb4d5c"/><rect x="327" y="307.0" width="3" height="5.7" fill="#53b987"/><rect x="331" y="306.9" width="3" height="1.2" fill="#eb4d5c"/><rect x="335" y="308.1" width="3" height="3.8" fill="#eb4d5c"/><rect x="339" y="300.2" width="3" height="11.7" fill="#53b987"/><rect x="344" y="300.2" width="3" height="1.8" fill="#eb4d5c"/><rect x="348" y="290.1" width="3" height="11.6" fill="#53b987"/><rect x="352" y="292.1" width="3" height="5.0" fill="#53b987"/><rect x="356" y="264.1" width="3" height="28.7" fill="#53b987"/><rect x="360" y="263.1" width="3" height="6.5" fill="#eb4d5c"/><rect x="364" y="263.1" width="3" height="8.1" fill="#53b987"/><rect x="368" y="258.2" width="3" height="4.4" fill="#53b987"/><rect x="373" y="257.1" width="3" height="3.7" fill="#53b987"/><rect x="377" y="226.0" width="3" height="31.7" fill="#53b987"/><rect x="381" y="228.9" width="3" height="3.9" fill="#eb4d5c"/><rect x="385" y="233.0" width="3" height="19.6" fill="#eb4d5c"/><rect x="389" y="247.0" width="3" height="3.6" fill="#53b987"/><rect x="393" y="243.3" width="3" height="5.1" fill="#53b987"/><rect x="397" y="236.0" width="3" height="25.7" fill="#eb4d5c"/><rect x="402" y="256.1" width="3" height="5.6" fill="#53b987"/><rect x="406" y="253.0" width="3" height="5.9" fill="#53b987"/><rect x="410" y="252.0" width="3" height="6.9" fill="#eb4d5c"/><rect x="414" y="257.1" width="3" height="7.6" fill="#eb4d5c"/><rect x="418" y="267.2" width="3" height="31.8" fill="#eb4d5c"/><rect x="422" y="295.1" width="3" height="3.4" fill="#53b987"/><rect x="427" y="291.0" width="3" height="4.8" fill="#eb4d5c"/><rect x="431" y="281.0" width="3" height="18.5" fill="#53b987"/><rect x="435" y="279.2" width="3" height="1.8" fill="#53b987"/><rect x="439" y="281.0" width="3" height="2.0" fill="#eb4d5c"/><rect x="443" y="272.3" width="3" height="10.4" fill="#53b987"/><rect x="447" y="274.7" width="3" height="5.9" fill="#eb4d5c"/><rect x="451" y="273.7" width="3" height="13.8" fill="#53b987"/><rect x="456" y="270.0" width="3" height="2.7" fill="#53b987"/><rect x="460" y="254.8" width="3" height="16.3" fill="#53b987"/><rect x="464" y="251.8" width="3" height="2.4" fill="#53b987"/><rect x="468" y="241.2" width="3" height="14.2" fill="#53b987"/><rect x="472" y="154.0" width="3" height="84.9" fill="#53b987"/><rect x="476" y="120.9" width="3" height="31.9" fill="#53b987"/><rect x="480" y="128.1" width="3" height="15.6" fill="#eb4d5c"/><rect x="485" y="95.1" width="3" height="47.6" fill="#53b987"/><rect x="489" y="88.2" width="3" height="5.5" fill="#53b987"/><rect x="493" y="88.2" width="3" height="43.6" fill="#eb4d5c"/><rect x="497" y="119.0" width="3" height="10.2" fill="#53b987"/><rect x="501" y="103.1" width="3" height="19.7" fill="#53b987"/><rect x="505" y="85.0" width="3" height="18.9" fill="#53b987"/><rect x="509" y="84.1" width="3" height="30.5" fill="#eb4d5c"/><rect x="514" y="113.7" width="3" height="1.2" fill="#eb4d5c"/><rect x="518" y="115.1" width="3" height="14.5" fill="#eb4d5c"/><rect x="522" y="121.9" width="3" height="7.7" fill="#53b987"/><rect x="526" y="116.1" width="3" height="13.5" fill="#53b987"/><rect x="530" y="115.1" width="3" height="10.5" fill="#eb4d5c"/><rect x="534" y="123.2" width="3" height="4.6" fill="#53b987"/><rect x="539" y="120.2" width="3" height="4.6" fill="#53b987"/><rect x="543" y="117.1" width="3" height="2.8" fill="#53b987"/><rect x="547" y="104.1" width="3" height="12.7" fill="#53b987"/><rect x="551" y="104.1" width="3" height="25.8" fill="#eb4d5c"/><rect x="555" y="126.3" width="3" height="4.4" fill="#53b987"/><rect x="559" y="125.0" width="3" height="5.7" fill="#53b987"/><rect x="563" y="124.0" width="3" height="1.6" fill="#eb4d5c"/><rect x="568" y="125.8" width="3" height="112.5" fill="#eb4d5c"/><rect x="572" y="233.8" width="3" height="17.0" fill="#eb4d5c"/><rect x="576" y="250.0" width="3" height="34.5" fill="#eb4d5c"/><rect x="580" y="283.2" width="3" height="18.7" fill="#eb4d5c"/><rect x="584" y="304.4" width="3" height="29.5" fill="#eb4d5c"/><rect x="588" y="333.2" width="3" height="14.4" fill="#eb4d5c"/><rect x="592" y="345.1" width="3" height="5.7" fill="#eb4d5c"/><rect x="597" y="333.2" width="3" height="18.7" fill="#53b987"/><rect x="601" y="329.1" width="3" height="5.7" fill="#53b987"/><rect x="605" y="314.0" width="3" height="14.8" fill="#53b987"/><rect x="609" y="310.4" width="3" height="8.4" fill="#53b987"/><rect x="613" y="309.9" width="3" height="13.7" fill="#eb4d5c"/><rect x="617" y="323.2" width="3" height="21.5" fill="#eb4d5c"/><rect x="622" y="347.1" width="3" height="5.6" fill="#eb4d5c"/><rect x="626" y="350.8" width="3" height="1.2" fill="#eb4d5c"/><rect x="630" y="351.1" width="3" height="1.6" fill="#eb4d5c"/><rect x="634" y="344.0" width="3" height="12.7" fill="#53b987"/><rect x="638" y="342.3" width="3" height="2.3" fill="#53b987"/><rect x="642" y="343.0" width="3" height="1.6" fill="#eb4d5c"/><rect x="646" y="343.0" width="3" height="8.5" fill="#eb4d5c"/><rect x="651" y="351.0" width="3" height="48.8" fill="#eb4d5c"/><rect x="655" y="391.3" width="3" height="7.2" fill="#53b987"/><rect x="659" y="392.2" width="3" height="15.6" fill="#eb4d5c"/><rect x="663" y="401.0" width="3" height="6.8" fill="#53b987"/><rect x="667" y="377.7" width="3" height="23.9" fill="#53b987"/><rect x="671" y="369.9" width="3" height="8.7" fill="#53b987"/><rect x="675" y="368.1" width="3" height="1.8" fill="#eb4d5c"/><rect x="680" y="368.1" width="3" height="17.7" fill="#eb4d5c"/><rect x="684" y="377.2" width="3" height="5.5" fill="#53b987"/><rect x="688" y="377.1" width="3" height="1.5" fill="#53b987"/><rect x="692" y="379.1" width="3" height="5.4" fill="#eb4d5c"/><rect x="696" y="384.1" width="3" height="7.7" fill="#eb4d5c"/><rect x="700" y="391.4" width="3" height="14.3" fill="#eb4d5c"/><rect x="704" y="404.0" width="3" height="4.8" fill="#eb4d5c"/><rect x="709" y="394.4" width="3" height="14.4" fill="#53b987"/><rect x="713" y="394.4" width="3" height="6.1" fill="#eb4d5c"/><rect x="717" y="401.2" width="3" height="9.4" fill="#eb4d5c"/><rect x="721" y="410.1" width="3" height="31.6" fill="#eb4d5c"/><rect x="725" y="438.2" width="3" height="18.5" fill="#eb4d5c"/><rect x="729" y="453.1" width="3" height="6.7" fill="#53b987"/><rect x="734" y="453.1" width="3" height="24.6" fill="#eb4d5c"/><rect x="738" y="476.9" width="3" height="17.9" fill="#eb4d5c"/><rect x="742" y="491.0" width="3" height="6.9" fill="#eb4d5c"/><rect x="746" y="487.1" width="3" height="6.7" fill="#53b987"/><rect x="750" y="473.2" width="3" height="14.7" fill="#53b987"/><rect x="754" y="464.2" width="3" height="9.7" fill="#53b987"/><rect x="758" y="456.1" width="3" height="8.6" fill="#53b987"/><rect x="763" y="456.1" width="3" height="6.6" fill="#eb4d5c"/>
<polyline fill="none" stroke="#b93c12" stroke-width="1.3" stroke-linejoin="round" points="9.2,122.1 18.8,129.8 28.4,141.9 34.8,153.1 41.1,164.3 50.7,181.9 60.3,193.1 69.9,202.7 79.5,212.2 87.5,219.6 95.5,225 105,231.4 114.6,235.6 124.2,237.2 133.8,232.4 141.8,231.4 153,233 165.7,234.6 178.5,234.6 183.3,233 197.7,237.2 207.3,242.6 216.9,248.3 226.4,251.5 240.8,251.5 255.2,259.5 271.2,265.9 287.2,270.4 300,272.2 312.8,273.8 325.6,275.4 332,277 344.7,280.2 357.5,282.8 373.5,285 389.5,281.8 402.2,278 415,273.8 431,271.6 437.4,272.9 450.2,273.8 459.7,274.8 466.1,274.8 478.9,274.8 488.5,272.2 494.9,265.8 501.3,256.3 510.9,246.7 523.6,235.5 536.4,221.1 546,213.1 558.8,202 571.6,192.4 580,188.3 585.5,185.3 595.3,192 605.9,201.1 615.1,213.7 625.8,222.5 636.5,231.7 647.1,243.3 656.3,250.9 665.4,258.5 674.6,269.2 683.8,277.4 692.9,284.5 703.6,293.6 714.3,300.6 723.4,308.9 738.7,320.2 749.4,333.3 760,346.4 769.2,356.8 784.5,370.9"/>
<text class="dv" x="789.2" y="134.9" font-size="12.5" fill="#7f7f7f">0.00%(625.23)</text>
<text class="lg" x="15.3" y="64.8" font-weight="bold" textLength="213.3" lengthAdjust="spacingAndGlyphs">Bitcoin Cash / Dollar, 240, BITSTAMP</text>
<text class="lg" x="15.3" y="82.2" textLength="64.2" lengthAdjust="spacingAndGlyphs">Объём (20)</text>
<text class="lg" x="15.3" y="99.3" textLength="86.3" lengthAdjust="spacingAndGlyphs">EMA (55, close)</text>
</g>
<g clip-path="url(#cs)">
<line x1="7" x2="875" y1="586.5" y2="586.5" stroke="rgba(180,190,215,0.18)" stroke-width="1"/>
<line x1="7" x2="875" y1="619.5" y2="619.5" stroke="rgba(180,190,215,0.18)" stroke-width="1"/>
<line x1="76.5" x2="76.5" y1="532" y2="626" stroke="rgba(180,195,220,0.22)" stroke-width="1"/>
<line x1="163.5" x2="163.5" y1="532" y2="626" stroke="rgba(180,195,220,0.22)" stroke-width="1"/>
<line x1="250.5" x2="250.5" y1="532" y2="626" stroke="rgba(180,195,220,0.22)" stroke-width="1"/>
<line x1="337.5" x2="337.5" y1="532" y2="626" stroke="rgba(180,195,220,0.22)" stroke-width="1"/>
<line x1="462.5" x2="462.5" y1="532" y2="626" stroke="rgba(180,195,220,0.22)" stroke-width="1"/>
<line x1="561.5" x2="561.5" y1="532" y2="626" stroke="rgba(180,195,220,0.22)" stroke-width="1"/>
<line x1="686.5" x2="686.5" y1="532" y2="626" stroke="rgba(180,195,220,0.22)" stroke-width="1"/>
<line x1="773.5" x2="773.5" y1="532" y2="626" stroke="rgba(180,195,220,0.22)" stroke-width="1"/>
<line x1="860.5" x2="860.5" y1="532" y2="626" stroke="rgba(180,195,220,0.22)" stroke-width="1"/>
<polyline fill="none" stroke="#fb9a55" stroke-width="1" stroke-linejoin="round" points="9.4,572.9 12.8,589.9 16.2,605.3 18.8,612.9 22.2,615.8 29,616.3 32.4,611.2 36.7,603.6 40.9,589.9 45.2,572.9 49.4,560.1 54.6,554.1 62.2,549.9 68.2,547.3 74.2,543.1 81,540.2 86.1,541.4 89.5,543.9 96.3,540.5 104.8,537.6 109.9,538 113.3,540.5 118.5,549 123.6,557.6 128.7,571.2 133.8,584.8 140.6,596.7 145.7,600.1 150.8,602.7 155.9,599.3 160,597.1 165.1,598.4 170.2,603.6 175.3,611.2 180.4,616.3 185.6,618.9 189.8,616.3 194.1,608.7 198.3,599.3 203.4,591.6 209.4,587.4 214.5,576.3 218.8,564.4 223,556.7 226.5,559.3 231.6,571.2 237.5,588.2 243.5,597.6 248.6,602.2 253.7,605.6 258,601.8 263.1,595.9 269,581.4 274.2,572.9 281.8,561.8 286.9,550.7 294.6,544.3 300.6,548.7 307.4,544.3 312.5,550.7 315.9,566.1 318.4,576.3 321.8,590.8 325.2,598.4 328.6,600.5 332,598.8 336.3,598.1 340.6,595.9 345.7,589.9 349.9,575.4 354.2,561 357.6,549.9 362.7,543.9 366.1,541.4 370.4,541.4 374.6,539.7 379.7,538 383.2,539.2 388.3,549 393.4,559.3 398.5,572.9 403.6,581.4 407.9,591.6 413,602.7 417.2,609.5 422.3,615.5 426.6,618 430.9,617.2 436,612.1 441.1,603.6 447,593.3 453,584.8 457.3,578.8 463.2,563.5 468.3,547.3 473.4,539.2 476.8,537.5 481.9,539.7 487,543.9 492.2,548.2 496.4,552.4 499.8,559.3 503.2,564.4 509.2,568.6 515.2,572.9 519.4,586.5 523.7,600.1 527.9,609.5 533,614.6 539.9,616.3 545,615.5 550.1,610.7 555.2,607.3 560.3,610.7 565.4,612.9 573.9,614.6 579,617.2 584.2,618.9 592.7,619.2 599.5,617.2 604.6,612.9 609.7,605.3 614.8,598.4 620,595 625.9,591.6 628.4,588.2 633.5,578 638.6,568.6 643.7,559.3 647.5,555.9 652.3,562.7 656.5,576.3 660.4,591.6 664.2,600.1 668.4,595.9 672.7,574.6 677,554.1 681.2,544.3 685.5,541.4 689.7,543.9 694,543.1 698.3,546 702.5,552.1 705.9,558.9 710.2,563.5 714.5,561.8 718.4,558.4 722.1,564.4 726.4,579.7 730.6,600.1 734.9,612.1 739.2,615.5 744.3,617.2 747.7,615.5 751.9,604.4 756.2,584.8 760.5,567.8 764.7,554.1"/>
<polyline fill="none" stroke="#5aaefa" stroke-width="1" stroke-linejoin="round" points="9.4,600.1 13.7,615.1 17.9,617.2 22.2,617.2 24.7,615.8 29.9,615.5 33.3,603.6 37.5,583.1 42.6,562.7 47.7,558.4 52.9,552.4 57.1,548.2 63.9,549 69.9,544.8 75.9,537.1 79.3,538.8 83.5,544.8 87.8,544.8 92,542.2 96.3,537.1 101.4,537.1 106.5,537.1 111.6,539.7 115,546.5 118.5,554.1 121.9,561 125.3,578 128.7,584 133,592.5 137.2,595.9 141.5,602.2 145.7,602.2 150,601 155.1,596.4 160.2,597.6 165.1,600.1 168.5,605.3 173.6,614.6 178.7,618.9 182.2,619.7 187.3,616.3 191.5,607 195.8,595.9 200,590.8 204.3,589.1 209.4,586.2 212.8,572.9 216.2,555.9 220,549.4 223,557.6 228.2,574.6 233.3,589.9 238.4,598.1 241.8,598.8 245.2,604.9 248.6,606.1 252.9,607 257.1,594.2 262.2,587.4 267.3,576.3 270.8,569.1 273.3,570.3 277.6,561.8 282.7,552.4 286.9,539.7 291.2,543.1 295.5,549.9 299.7,549.9 304,543.9 307.4,538.8 311.6,564.4 315.9,584.8 317.6,593.3 321,603.2 324.4,600.1 328.3,596.4 332,599.3 336.3,598.4 340.6,589.9 345.7,582.3 349.9,559.3 354.2,550.7 357.6,539.7 361.9,542.6 366.1,541.4 370.4,541.4 374.6,537.5 378.9,538 383.2,540.5 388.3,555.9 395.1,569.5 400.2,581.4 404.5,590.8 408.7,603.6 413,609.5 417.2,615.5 419.8,619.7 424,618.9 428.3,617.2 432.6,611.2 437.7,602.7 444.5,589.9 447.9,587.4 453,578 457.3,572.9 461.5,554.1 464.9,545.6 469.2,537.5 476.8,537.5 481.9,542.2 486.2,544.8 490.4,547.3 495.6,554.1 499,562.7 502.4,570.3 506.6,566.9 510.9,572.9 515.2,582.3 519.4,598.4 522.8,607 527.9,614.1 534.7,615.8 540.7,617.2 545,615.1 548.7,605.6 552.6,607 556,608.3 560.3,616.3 563.7,612.4 568.8,613.4 572.2,614.6 577.3,619.2 584.2,619.2 589.3,619.2 594.4,618.9 599.5,614.6 602.9,611.2 608,601.8 611.4,597.6 614.8,594.2 618.2,596.7 623.3,589.9 626.8,584.8 630.1,578 635.2,567.8 639.5,559.3 643.4,551.6 647.2,554.1 651.4,569.5 655.7,584.8 660.4,609.2 664.2,598.4 668.4,576.3 671.9,555.9 676.5,537.5 681.2,543.1 685.5,544.3 689.7,544.3 693.2,542.6 698.3,549.9 701.7,559.3 705.4,568.1 710.2,563.5 714.5,556.7 718.4,553.8 722.1,572.9 726.4,600.1 730.6,616.3 735.8,616.3 740,616.3 743.4,619.2 746.8,612.1 751.1,596.7 755.3,572.9 759.6,549.9 764.7,543.6"/>
<rect x="7" y="553.5" width="867" height="50" fill="rgba(153,21,255,0.2)"/>
<line x1="7" x2="875" y1="553.5" y2="553.5" stroke="#a3a3a3" stroke-width="1" stroke-dasharray="3 2.4"/>
<line x1="7" x2="875" y1="603.5" y2="603.5" stroke="#a3a3a3" stroke-width="1" stroke-dasharray="3 2.4"/>
<text class="lg" x="15.3" y="552.7" textLength="160.2" lengthAdjust="spacingAndGlyphs">Stoch RSI (3, 3, 14, 14, close)</text>
</g>
<line x1="7" x2="932" y1="531.5" y2="531.5" stroke="#4d4d4d" stroke-width="1"/>
<line x1="7" x2="876" y1="626.5" y2="626.5" stroke="#4d4d4d" stroke-width="1"/>
<line x1="875.5" x2="875.5" y1="44" y2="627" stroke="#4d4d4d" stroke-width="1"/>
<line x1="876" x2="879" y1="68.5" y2="68.5" stroke="#4d4d4d" stroke-width="1"/><text class="ax" x="882" y="72.8">660.000</text><line x1="876" x2="879" y1="103.5" y2="103.5" stroke="#4d4d4d" stroke-width="1"/><text class="ax" x="882" y="107.8">640.000</text><line x1="876" x2="879" y1="138.5" y2="138.5" stroke="#4d4d4d" stroke-width="1"/><text class="ax" x="882" y="142.8">620.000</text><line x1="876" x2="879" y1="173.5" y2="173.5" stroke="#4d4d4d" stroke-width="1"/><line x1="876" x2="879" y1="208.5" y2="208.5" stroke="#4d4d4d" stroke-width="1"/><line x1="876" x2="879" y1="243.5" y2="243.5" stroke="#4d4d4d" stroke-width="1"/><text class="ax" x="882" y="247.8">560.000</text><line x1="876" x2="879" y1="277.5" y2="277.5" stroke="#4d4d4d" stroke-width="1"/><line x1="876" x2="879" y1="312.5" y2="312.5" stroke="#4d4d4d" stroke-width="1"/><text class="ax" x="882" y="316.8">520.000</text><line x1="876" x2="879" y1="347.5" y2="347.5" stroke="#4d4d4d" stroke-width="1"/><line x1="876" x2="879" y1="382.5" y2="382.5" stroke="#4d4d4d" stroke-width="1"/><text class="ax" x="882" y="386.8">480.000</text><line x1="876" x2="879" y1="417.5" y2="417.5" stroke="#4d4d4d" stroke-width="1"/><text class="ax" x="882" y="421.8">460.000</text><line x1="876" x2="879" y1="451.5" y2="451.5" stroke="#4d4d4d" stroke-width="1"/><line x1="876" x2="879" y1="486.5" y2="486.5" stroke="#4d4d4d" stroke-width="1"/><text class="ax" x="882" y="490.8">420.000</text><line x1="876" x2="879" y1="521.5" y2="521.5" stroke="#4d4d4d" stroke-width="1"/><text class="ax" x="882" y="525.8">400.000</text><line x1="876" x2="879" y1="553.5" y2="553.5" stroke="#4d4d4d" stroke-width="1"/><text class="ax" x="882" y="557.8">80.0000</text><line x1="876" x2="879" y1="586.8" y2="586.8" stroke="#4d4d4d" stroke-width="1"/><text class="ax" x="882" y="591.1">40.0000</text><line x1="876" x2="879" y1="619.5" y2="619.5" stroke="#4d4d4d" stroke-width="1"/><text class="ax" x="882" y="623.8">0.0000</text>
<rect x="875.5" y="166" width="50.5" height="17.0" fill="#cc0000"/>
<line x1="876" x2="879" y1="174.5" y2="174.5" stroke="#ffffff" stroke-width="1"/>
<text class="ax" x="882" y="178.8" style="fill:#ffffff">599.490</text>
<rect x="875.5" y="205.4" width="50.5" height="16.4" fill="#6aa84f"/>
<line x1="876" x2="879" y1="213.6" y2="213.6" stroke="#ffffff" stroke-width="1"/>
<text class="ax" x="882" y="217.9" style="fill:#ffffff">577.000</text>
<rect x="875.5" y="269.3" width="50.5" height="16.4" fill="#0000ff"/>
<line x1="876" x2="879" y1="277.5" y2="277.5" stroke="#ffffff" stroke-width="1"/>
<text class="ax" x="882" y="281.8" style="fill:#ffffff">540.000</text>
<rect x="875.5" y="339.2" width="50.5" height="16.4" fill="#6aa84f"/>
<line x1="876" x2="879" y1="347.4" y2="347.4" stroke="#ffffff" stroke-width="1"/>
<text class="ax" x="882" y="351.7" style="fill:#ffffff">500.000</text>
<rect x="875.5" y="439.1" width="50.5" height="17.0" fill="#eb4d5c"/>
<line x1="876" x2="879" y1="447.6" y2="447.6" stroke="#ffffff" stroke-width="1"/>
<text class="ax" x="882" y="451.9" style="fill:#ffffff">433.990</text>
<rect x="875.5" y="456.1" width="50.5" height="16.8" fill="#4d4d4d"/>
<line x1="876" x2="879" y1="464.5" y2="464.5" stroke="#ffffff" stroke-width="1"/>
<text class="ax" x="882" y="468.8" style="fill:#ffffff">432.800</text>
<line x1="76.5" x2="76.5" y1="627" y2="631" stroke="#4d4d4d" stroke-width="1"/>
<text class="ax" x="76.5" y="643.6" text-anchor="middle">15:00</text>
<line x1="163.5" x2="163.5" y1="627" y2="631" stroke="#4d4d4d" stroke-width="1"/>
<text class="ax" x="163.5" y="643.6" text-anchor="middle">20</text>
<line x1="250.5" x2="250.5" y1="627" y2="631" stroke="#4d4d4d" stroke-width="1"/>
<text class="ax" x="250.5" y="643.6" text-anchor="middle">15:00</text>
<line x1="337.5" x2="337.5" y1="627" y2="631" stroke="#4d4d4d" stroke-width="1"/>
<text class="ax" x="337.5" y="643.6" text-anchor="middle">27</text>
<line x1="462.5" x2="462.5" y1="627" y2="631" stroke="#4d4d4d" stroke-width="1"/>
<text class="ax" x="462.5" y="643.6" text-anchor="middle">Сен</text>
<line x1="561.5" x2="561.5" y1="627" y2="631" stroke="#4d4d4d" stroke-width="1"/>
<text class="ax" x="561.5" y="643.6" text-anchor="middle">5</text>
<line x1="686.5" x2="686.5" y1="627" y2="631" stroke="#4d4d4d" stroke-width="1"/>
<text class="ax" x="686.5" y="643.6" text-anchor="middle">10</text>
<line x1="773.5" x2="773.5" y1="627" y2="631" stroke="#4d4d4d" stroke-width="1"/>
<text class="ax" x="773.5" y="643.6" text-anchor="middle">15:00</text>
<line x1="860.5" x2="860.5" y1="627" y2="631" stroke="#4d4d4d" stroke-width="1"/>
<text class="ax" x="860.5" y="643.6" text-anchor="middle">17</text>
<text x="6.3" y="671.9" font-family="Liberation Sans, Arial, sans-serif" font-size="12.5" fill="#131722" textLength="123" lengthAdjust="spacingAndGlyphs">Создано при помощи</text>
<path d="M141.5 675.8 C139.6 675.8 139.3 672.2 140 670.6 C140.8 668.3 142.6 667.1 144.7 666.8 C145.4 663.3 147.8 661.8 150.4 661.8 C153 661.8 155 662.8 156.5 664 C158.2 664.3 159.6 665.5 160.4 666.8 C162.6 667.6 164 670 163.7 672.6 C163.5 674.6 162.8 675.8 161.5 675.8 Z" fill="#52bde7"/>
<polyline points="140.1,674 148.5,666.5 154.1,674.2 160.8,666.2" fill="none" stroke="#f0f3f7" stroke-width="1.3" stroke-linejoin="miter"/>
<text x="170.4" y="672" font-family="Liberation Sans, Arial, sans-serif" font-size="12.7" fill="#4fb0e0" textLength="70" lengthAdjust="spacingAndGlyphs">TradingView</text>
</svg></body></html>
